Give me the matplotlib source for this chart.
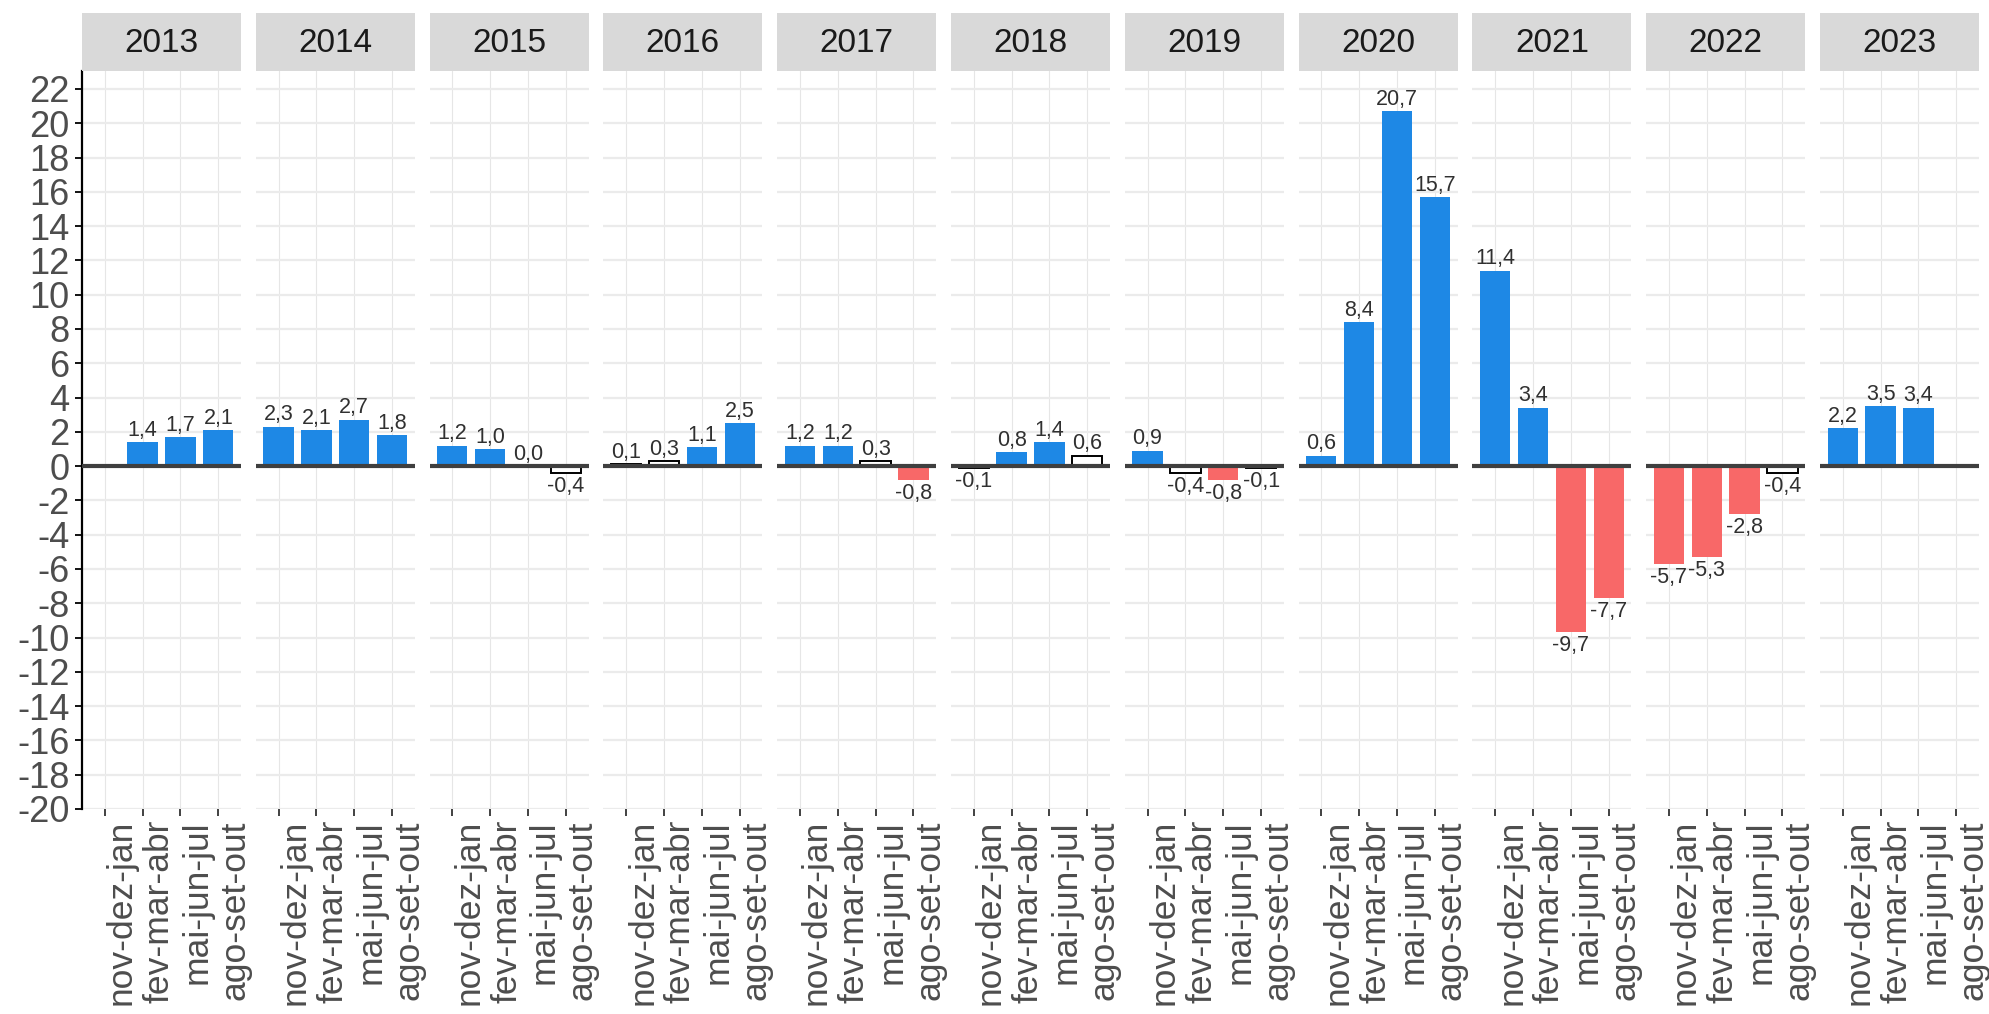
import numpy as np
import matplotlib.pyplot as plt

plt.rcParams['font.family'] = ['Liberation Sans', 'DejaVu Sans']
plt.rcParams['axes.unicode_minus'] = False

anos = [2013, 2014, 2015, 2016, 2017, 2018, 2019, 2020, 2021, 2022, 2023]
trimestres = ['nov-dez-jan', 'fev-mar-abr', 'mai-jun-jul', 'ago-set-out']

# variação (%) por trimestre móvel, uma linha por ano
variacao = [
    [np.nan, 1.4, 1.7, 2.1],
    [2.3, 2.1, 2.7, 1.8],
    [1.2, 1.0, 0.0, -0.4],
    [0.1, 0.3, 1.1, 2.5],
    [1.2, 1.2, 0.3, -0.8],
    [-0.1, 0.8, 1.4, 0.6],
    [0.9, -0.4, -0.8, -0.1],
    [0.6, 8.4, 20.7, 15.7],
    [11.4, 3.4, -9.7, -7.7],
    [-5.7, -5.3, -2.8, -0.4],
    [2.2, 3.5, 3.4, np.nan],
]
# A = alta significativa, Q = queda significativa, N = estabilidade
situacao = [
    ['', 'A', 'A', 'A'],
    ['A', 'A', 'A', 'A'],
    ['A', 'A', 'N', 'N'],
    ['N', 'N', 'A', 'A'],
    ['A', 'A', 'N', 'Q'],
    ['N', 'A', 'A', 'N'],
    ['A', 'N', 'Q', 'N'],
    ['A', 'A', 'A', 'A'],
    ['A', 'A', 'Q', 'Q'],
    ['Q', 'Q', 'Q', 'N'],
    ['A', 'A', 'A', ''],
]
cores = {'A': '#1E88E5', 'Q': '#F86868', 'N': 'white'}

W, H = 1989, 1014
fig = plt.figure(figsize=(W / 100, H / 100), dpi=100)

x0, pw, passo = 82, 159, 173.8      # painel: início, largura, passo (px)
topo, base, faixa = 71, 809, 13     # topo/base do painel e topo da faixa (px)

x = np.arange(1, 5)
for i, ano in enumerate(anos):
    esq = (x0 + i * passo) / W
    ax = fig.add_axes([esq, 1 - base / H, pw / W, (base - topo) / H])

    for j in range(4):
        v = variacao[i][j]
        if np.isnan(v):
            continue
        s = situacao[i][j]
        ax.bar(x[j], v, width=0.8, color=cores[s],
               edgecolor='black' if s == 'N' else cores[s],
               linewidth=1.4 if s == 'N' else 0, zorder=2)
        txt = f"{v:.1f}".replace('.', ',')
        if v >= 0:
            ax.annotate(txt, (x[j], v), xytext=(0, 1), textcoords='offset points',
                        ha='center', va='bottom', fontsize=15.5, color='#303030', zorder=5)
        else:
            ax.annotate(txt, (x[j], v), xytext=(0, -2), textcoords='offset points',
                        ha='center', va='top', fontsize=15.5, color='#303030', zorder=5)

    ax.axhline(0, color='#3F3F3F', lw=3, zorder=3)

    ax.set_xlim(0.4, 4.6)
    ax.set_ylim(-20, 23.05)
    ax.set_yticks(np.arange(-20, 23, 2))
    ax.set_xticks(x)
    ax.set_xticklabels(trimestres, rotation=90, ha='left', va='top',
                       fontsize=25.5, color='#4D4D4D')
    ax.tick_params(axis='x', length=5, width=1.3, color='#333333', pad=3)
    ax.set_axisbelow(True)
    ax.grid(axis='y', color='#EBEBEB', lw=1.6)
    ax.grid(axis='x', color='#E6E6E6', lw=0.8)
    for sp in ax.spines.values():
        sp.set_visible(False)

    if i == 0:
        ax.spines['left'].set_visible(True)
        ax.spines['left'].set_color('black')
        ax.spines['left'].set_linewidth(1.6)
        ax.tick_params(axis='y', length=5, width=1.3, color='black', pad=4,
                       labelsize=26, labelcolor='#4D4D4D')
    else:
        ax.tick_params(axis='y', length=0, labelleft=False)

    # faixa do ano
    sax = fig.add_axes([esq, 1 - topo / H, pw / W, (topo - faixa) / H])
    sax.set_facecolor('#D9D9D9')
    sax.set_xticks([])
    sax.set_yticks([])
    for sp in sax.spines.values():
        sp.set_visible(False)
    sax.text(0.5, 0.47, str(ano), ha='center', va='center', fontsize=24,
             color='#1A1A1A', transform=sax.transAxes)

fig.savefig('out.png', dpi=100, facecolor='white')
